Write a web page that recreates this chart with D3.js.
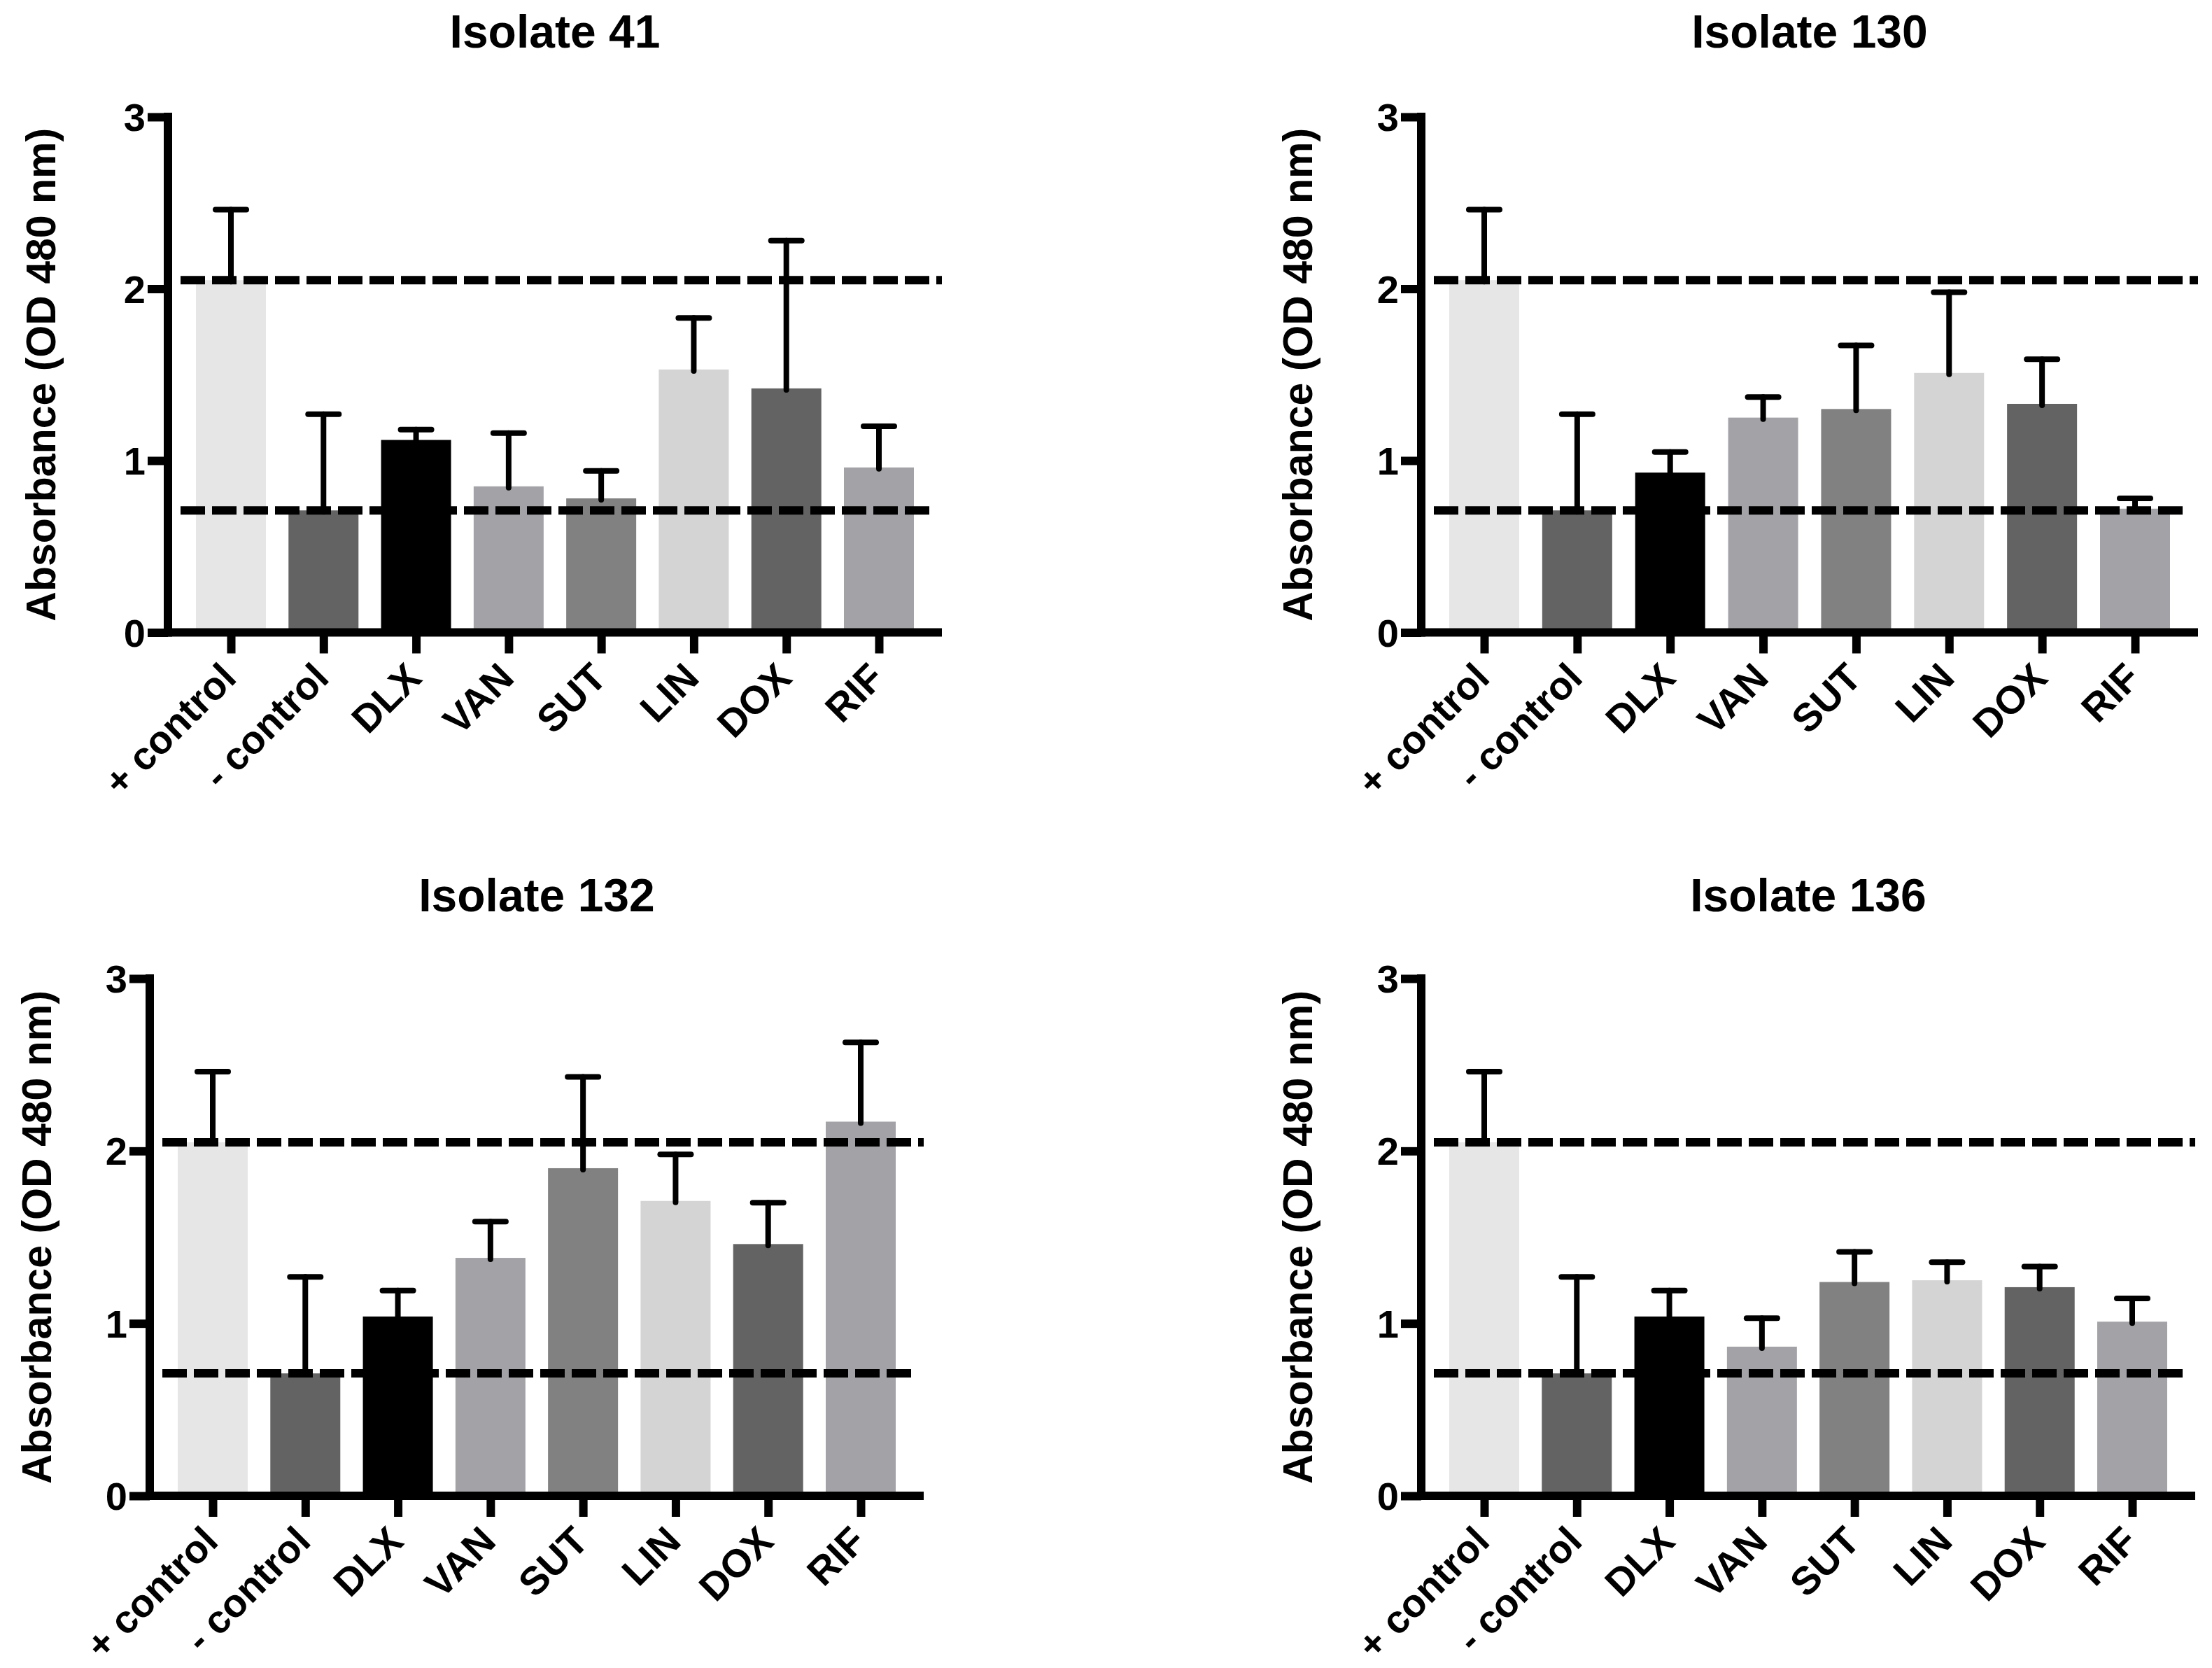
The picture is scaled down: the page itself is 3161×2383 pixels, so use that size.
<!DOCTYPE html>
<html>
<head>
<meta charset="utf-8">
<script src="https://cdn.jsdelivr.net/npm/d3@7"></script>
<style>
  html, body { margin: 0; padding: 0; background: #ffffff; }
  svg { display: block; }
  text { font-family: "Liberation Sans", Arial, Helvetica, sans-serif; font-weight: bold; fill: #000; }
</style>
</head>
<body>
<svg id="chart" width="3161" height="2383"></svg>
<script>
// ---------- data ----------
const categories = ["+ control", "- control", "DLX", "VAN", "SUT", "LIN", "DOX", "RIF"];
const barColors = ["#e6e6e6", "#636363", "#000000", "#a3a2a7", "#818181", "#d4d4d4", "#636363", "#a3a2a7"];
const titles = ["Isolate 41", "Isolate 130", "Isolate 132", "Isolate 136"];
const yTicks = [0, 1, 2, 3];
const yLabel = "Absorbance (OD 480 nm)";
const thresholds = [2.05, 0.71];

const means41  = [2.05, 0.71, 1.12, 0.85, 0.78, 1.53, 1.42, 0.96];
const errors41 = [0.41, 0.56, 0.06, 0.31, 0.16, 0.30, 0.86, 0.24];

const means130  = [2.05, 0.71, 0.93, 1.25, 1.30, 1.51, 1.33, 0.72];
const errors130 = [0.41, 0.56, 0.12, 0.12, 0.37, 0.47, 0.26, 0.06];

const means132  = [2.05, 0.71, 1.04, 1.38, 1.90, 1.71, 1.46, 2.17];
const errors132 = [0.41, 0.56, 0.15, 0.21, 0.53, 0.27, 0.24, 0.46];

const means136  = [2.05, 0.71, 1.04, 0.865, 1.24, 1.25, 1.21, 1.01];
const errors136 = [0.41, 0.56, 0.15, 0.165, 0.175, 0.105, 0.12, 0.135];

const seriesMeans = [means41, means130, means132, means136];
const seriesErrors = [errors41, errors130, errors132, errors136];

// ---------- layout ----------
const panels = [
  { x0: 240,  x1: 1346, yTop: 167,  yBot: 903.5, titleY: 68,   labelX: 58 },
  { x0: 2031, x1: 3141, yTop: 167,  yBot: 903.5, titleY: 68,   labelX: 1854 },
  { x0: 214,  x1: 1320, yTop: 1398, yBot: 2137,  titleY: 1302, labelX: 52 },
  { x0: 2031, x1: 3137, yTop: 1398, yBot: 2137,  titleY: 1302, labelX: 1854 }
];

const svg = d3.select("#chart");

panels.forEach((p, i) => {
  const means = seriesMeans[i];
  const errs = seriesErrors[i];
  const g = svg.append("g");

  const x = d3.scalePoint().domain(categories).range([p.x0 + 90, p.x1 - 90]);
  const y = d3.scaleLinear().domain([0, 3]).range([p.yBot, p.yTop]);
  const barW = 100;

  // bars
  g.selectAll("rect.bar").data(categories).enter().append("rect")
    .attr("class", "bar")
    .attr("x", d => x(d) - barW / 2)
    .attr("width", barW)
    .attr("y", (d, j) => y(means[j]))
    .attr("height", (d, j) => y(0) - y(means[j]))
    .attr("fill", (d, j) => barColors[j]);

  // error bars (upper only)
  const eb = g.selectAll("g.err").data(categories).enter().append("g").attr("class", "err");
  eb.append("line")
    .attr("x1", d => x(d)).attr("x2", d => x(d))
    .attr("y1", (d, j) => y(means[j]) + 2)
    .attr("y2", (d, j) => y(means[j] + errs[j]))
    .attr("stroke", "#000").attr("stroke-width", 8).attr("stroke-linecap", "round");
  eb.append("line")
    .attr("x1", d => x(d) - 22).attr("x2", d => x(d) + 22)
    .attr("y1", (d, j) => y(means[j] + errs[j]))
    .attr("y2", (d, j) => y(means[j] + errs[j]))
    .attr("stroke", "#000").attr("stroke-width", 8).attr("stroke-linecap", "round");

  // threshold dashed lines
  thresholds.forEach((t, k) => {
    g.append("line")
      .attr("x1", p.x0 + 18)
      .attr("x2", k === 0 ? p.x1 : p.x1 - 14)
      .attr("y1", y(t)).attr("y2", y(t))
      .attr("stroke", "#000").attr("stroke-width", 12)
      .attr("stroke-dasharray", "35,10");
  });

  // y axis ticks + labels
  const yAxis = d3.axisLeft(y).tickValues(yTicks).tickFormat(d3.format("d")).tickSizeInner(29).tickSizeOuter(0);
  const ya = g.append("g").attr("transform", `translate(${p.x0},0)`).call(yAxis);
  ya.select(".domain").remove();
  ya.selectAll(".tick line").attr("stroke", "#000").attr("stroke-width", 12);
  ya.selectAll(".tick text")
    .attr("x", -32).attr("dy", "0.35em")
    .attr("font-size", 56).attr("font-family", "Liberation Sans, Arial, sans-serif")
    .attr("font-weight", "bold").attr("fill", "#000");

  // x axis ticks + labels
  const xAxis = d3.axisBottom(x).tickSizeInner(30).tickSizeOuter(0);
  const xa = g.append("g").attr("transform", `translate(0,${p.yBot})`).call(xAxis);
  xa.select(".domain").remove();
  xa.selectAll(".tick line").attr("stroke", "#000").attr("stroke-width", 12);
  xa.selectAll(".tick text")
    .attr("x", 0).attr("y", 0).attr("dy", 0)
    .attr("text-anchor", "end")
    .attr("transform", "translate(10,68) rotate(-45)")
    .attr("font-size", 56).attr("font-family", "Liberation Sans, Arial, sans-serif")
    .attr("font-weight", "bold").attr("fill", "#000");

  // axis lines
  g.append("line")
    .attr("x1", p.x0).attr("x2", p.x0)
    .attr("y1", y(3) - 6).attr("y2", y(0) + 6)
    .attr("stroke", "#000").attr("stroke-width", 12);
  g.append("line")
    .attr("x1", p.x0 - 6).attr("x2", p.x1)
    .attr("y1", y(0)).attr("y2", y(0))
    .attr("stroke", "#000").attr("stroke-width", 12);

  // title
  g.append("text")
    .attr("x", (p.x0 + p.x1) / 2).attr("y", p.titleY)
    .attr("text-anchor", "middle").attr("font-size", 66)
    .text(titles[i]);

  // y label
  g.append("text")
    .attr("transform", `translate(${p.labelX + 21},${(p.yTop + p.yBot) / 2}) rotate(-90)`)
    .attr("text-anchor", "middle").attr("font-size", 59)
    .text(yLabel);
});
</script>
</body>
</html>
